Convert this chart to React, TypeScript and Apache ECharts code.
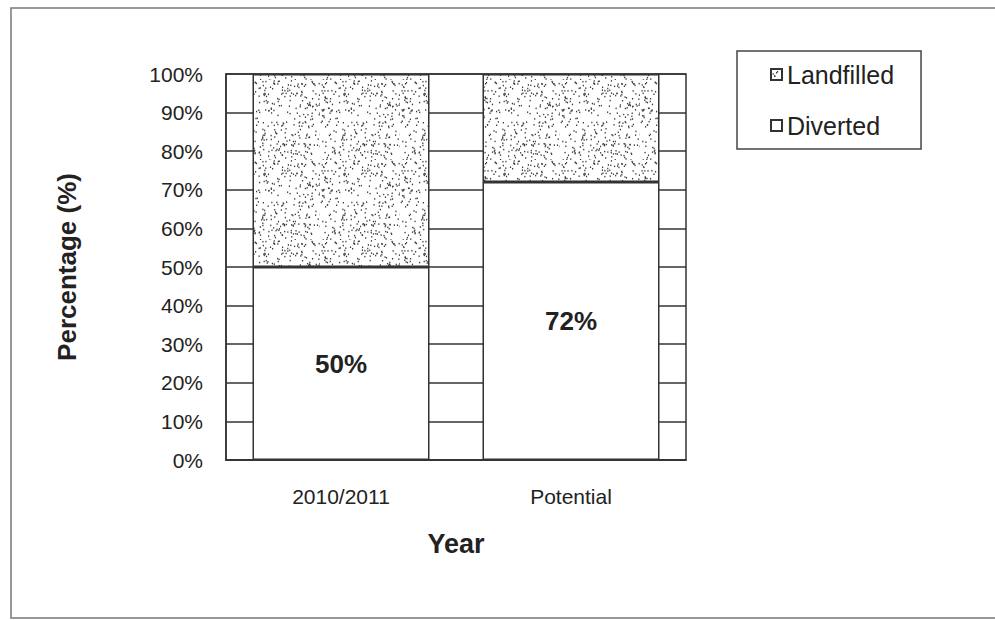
import React, { useEffect, useRef } from "react";
import * as echarts from "echarts";

const categories = ["2010/2011", "Potential"];
const diverted = [50, 72];
const landfilled = [50, 28];
const yMin = 0;
const yMax = 100;
const yStep = 10;

function makeStipple(): HTMLCanvasElement {
  const c = document.createElement("canvas");
  c.width = 80;
  c.height = 80;
  const ctx = c.getContext("2d")!;
  ctx.fillStyle = "#ffffff";
  ctx.fillRect(0, 0, 80, 80);
  let s = 98765;
  const rnd = () => {
    s = (s * 1103515245 + 12345) % 2147483648;
    return s / 2147483648;
  };
  ctx.fillStyle = "#3a3a3a";
  for (let i = 0; i < 330; i++) {
    const x = rnd() * 80;
    const y = rnd() * 80;
    ctx.fillRect(x, y, 1.2, 1.5);
  }
  return c;
}

export default function App() {
  const ref = useRef<HTMLDivElement>(null);
  useEffect(() => {
    if (!ref.current) return;
    const chart = echarts.init(ref.current, undefined, { renderer: "svg" });
    const stipple = makeStipple();
    const font = "'Liberation Sans', Arial, sans-serif";
    chart.setOption({
      animation: false,
      backgroundColor: "#ffffff",
      textStyle: { fontFamily: font, color: "#222" },
      grid: {
        left: 226,
        right: 309,
        top: 74,
        bottom: 160,
        show: true,
        borderColor: "#333",
        borderWidth: 1.5,
        backgroundColor: "#fff",
      },
      legend: {
        data: ["Landfilled", "Diverted"],
        orient: "vertical",
        left: 737,
        top: 51,
        padding: [11, 27, 11, 33],
        itemGap: 26,
        itemWidth: 11,
        itemHeight: 11,
        icon: "rect",
        borderColor: "#444",
        borderWidth: 1.5,
        textStyle: { fontSize: 25, lineHeight: 24, color: "#222", fontFamily: font },
      },
      graphic: [
        {
          type: "rect",
          shape: { x: 11, y: 8, width: 1000, height: 610 },
          style: { fill: "none", stroke: "#777", lineWidth: 1.5 },
          silent: true,
        },
      ],
      xAxis: {
        type: "category",
        data: categories,
        name: "Year",
        nameLocation: "middle",
        nameGap: 70,
        nameTextStyle: { fontSize: 27, fontWeight: "bold", color: "#222", fontFamily: font },
        axisLine: { show: true, lineStyle: { color: "#333", width: 1.5 } },
        axisTick: { show: false },
        axisLabel: { fontSize: 21, margin: 26, color: "#222", fontFamily: font },
      },
      yAxis: {
        type: "value",
        min: yMin,
        max: yMax,
        interval: yStep,
        name: "Percentage (%)",
        nameLocation: "middle",
        nameGap: 146,
        nameTextStyle: { fontSize: 26, fontWeight: "bold", color: "#222", fontFamily: font },
        axisLine: { show: true, lineStyle: { color: "#333", width: 1.5 } },
        axisTick: { show: false },
        axisLabel: { fontSize: 21, margin: 23, color: "#222", fontFamily: font, formatter: "{value}%" },
        splitLine: { show: true, lineStyle: { color: "#333", width: 1.5 } },
      },
      series: [
        {
          name: "Diverted",
          type: "bar",
          stack: "total",
          data: diverted,
          barWidth: 177,
          itemStyle: { color: "#ffffff", borderColor: "#333", borderWidth: 1.5 },
          label: {
            show: true,
            position: "inside",
            formatter: "{c}%",
            fontSize: 26,
            fontWeight: "bold",
            color: "#222",
            fontFamily: font,
          },
        },
        {
          name: "Landfilled",
          type: "bar",
          stack: "total",
          data: landfilled,
          barWidth: 177,
          itemStyle: {
            color: { image: stipple, repeat: "repeat" },
            borderColor: "#333",
            borderWidth: 1.5,
          },
        },
      ],
    });
    return () => chart.dispose();
  }, []);
  return (
    <div
      ref={ref}
      style={{ position: "absolute", left: 0, top: 0, width: 995, height: 620 }}
    />
  );
}
